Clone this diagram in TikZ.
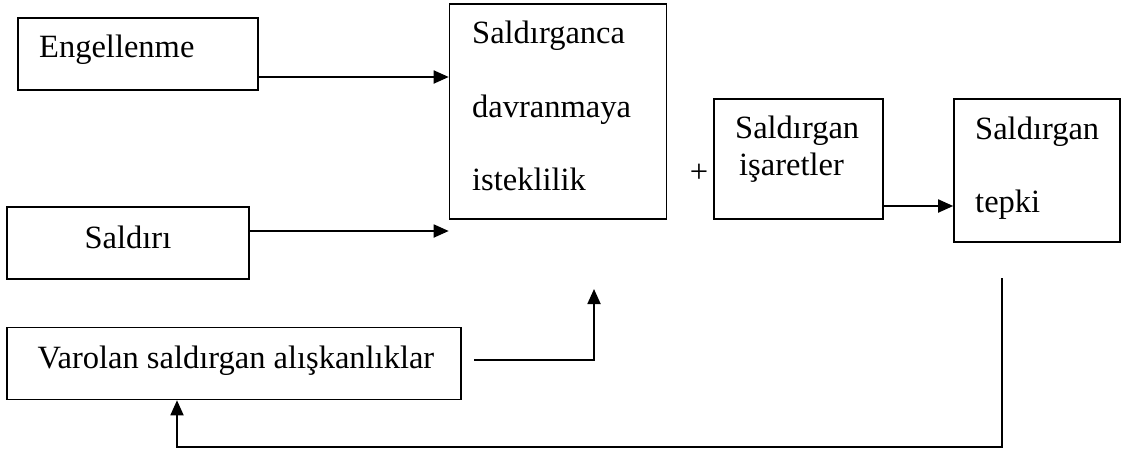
\documentclass[tikz,border=0pt]{standalone}
\usepackage{fontspec}
\setmainfont{Liberation Serif}
\usetikzlibrary{arrows.meta,calc}
\begin{document}
\begin{tikzpicture}[x=1pt,y=-1pt,
  box/.style={draw,line width=1.6pt,inner sep=0pt},
  lbl/.style={anchor=base west,inner sep=0pt,font=\fontsize{32.5}{38}\selectfont},
  clbl/.style={anchor=base,inner sep=0pt,font=\fontsize{32.5}{38}\selectfont},
  conn/.style={line width=1.8pt},
  arr/.style={conn,-{Triangle[length=15pt,width=13pt]}}]
\useasboundingbox (0,0) rectangle (1123,450);
% boxes
\node[box,minimum width=240pt,minimum height=72pt] (eng) at (138,54) {};
\node[box,minimum width=217pt,minimum height=215pt] (sal) at (558,111.5) {};
\node[box,minimum width=169pt,minimum height=120pt] (isr) at (798.5,159) {};
\node[box,minimum width=166pt,minimum height=143pt] (tep) at (1037,170.5) {};
\node[box,minimum width=242pt,minimum height=72pt] (sld) at (128,243) {};
\node[box,minimum width=454pt,minimum height=72pt] (var) at (234,363.5) {};
% texts
\node[lbl] (t1) at (39,57) {Engellenme};
\node[lbl] (t2) at (472,43) {Saldırganca};
\node[lbl] (t3) at (472,117) {davranmaya};
\node[lbl] (t4) at (472,190) {isteklilik};
\node[lbl] (t5) at (735,138) {Saldırgan};
\node[lbl] (t6) at (739,175) {işaretler};
\node[lbl] (t7) at (975,139) {Saldırgan};
\node[lbl] (t8) at (975,212) {tepki};
\node[clbl] (t9) at (128,248) {Saldırı};
\node[clbl] (t10) at (236,368) {Varolan saldırgan alışkanlıklar};
\node[inner sep=0pt,font=\fontsize{32.5}{38}\selectfont] (plus) at (699,173) {+};
% connectors
\draw[arr] (eng.east |- 0,77) -- (sal.west |- 0,77);
\draw[arr] (sld.east |- 0,231) -- (sal.west |- 0,231);
\draw[arr] (isr.east |- 0,206) -- (tep.west |- 0,206);
\coordinate (v1) at (474,360);
\coordinate (v2) at (594,289);
\draw[arr] (v1) -| (v2);
\coordinate (f1) at (1002,278);
\coordinate (f2) at (177,447);
\draw[arr] (f1) |- (f2) -- (f2 |- var.south);
\end{tikzpicture}
\end{document}
